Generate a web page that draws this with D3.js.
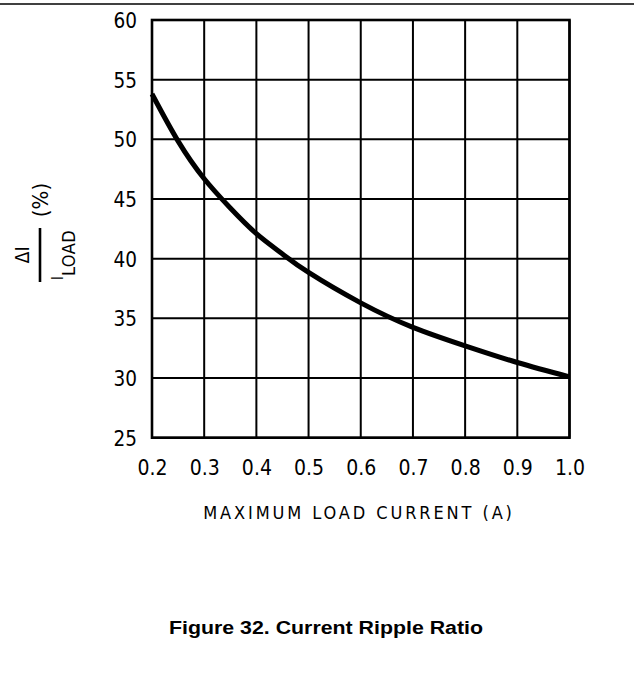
<!DOCTYPE html>
<html>
<head>
<meta charset="utf-8">
<script src="https://cdn.jsdelivr.net/npm/d3@7"></script>
<style>
  html, body { margin: 0; padding: 0; background: #fff; }
  svg { display: block; }
</style>
</head>
<body>
<script>
// Data
const loadCurrent = [0.2, 0.25, 0.3, 0.35, 0.4, 0.45, 0.5, 0.6, 0.7, 0.8, 0.9, 1.0];
const rippleRatio = [53.8, 49.85, 46.7, 44.25, 42.1, 40.4, 38.85, 36.3, 34.25, 32.7, 31.3, 30.1];
const xTicks = [0.2, 0.3, 0.4, 0.5, 0.6, 0.7, 0.8, 0.9, 1.0];
const xTickLabels = ["0.2", "0.3", "0.4", "0.5", "0.6", "0.7", "0.8", "0.9", "1.0"];
const yTicks = [25, 30, 35, 40, 45, 50, 55, 60];
const xTitle = "MAXIMUM LOAD CURRENT (A)";
const caption = "Figure 32. Current Ripple Ratio";

const W = 634, H = 675;
const mLeft = 152, mRight = 569.5, mTop = 20, mBottom = 437.7;

const svg = d3.select("body").append("svg").attr("width", W).attr("height", H);

// top rule
svg.append("line").attr("x1", 0).attr("x2", W).attr("y1", 4).attr("y2", 4)
  .attr("stroke", "#000").attr("stroke-width", 1.6);

const x = d3.scaleLinear().domain([0.2, 1.0]).range([mLeft, mRight]);
const y = d3.scaleLinear().domain([25, 60]).range([mBottom, mTop]);

const font = "'DejaVu Sans Condensed', 'DejaVu Sans', sans-serif";

// grid
const grid = svg.append("g");
grid.selectAll("line.v").data(xTicks).join("line").attr("class", "v")
  .attr("x1", d => x(d)).attr("x2", d => x(d)).attr("y1", mTop).attr("y2", mBottom)
  .attr("stroke", "#000").attr("stroke-width", 2);
grid.selectAll("line.h").data(yTicks).join("line").attr("class", "h")
  .attr("x1", mLeft).attr("x2", mRight).attr("y1", d => y(d)).attr("y2", d => y(d))
  .attr("stroke", "#000").attr("stroke-width", 2);

// frame
svg.append("rect").attr("x", mLeft).attr("y", mTop)
  .attr("width", mRight - mLeft).attr("height", mBottom - mTop)
  .attr("fill", "none").attr("stroke", "#000").attr("stroke-width", 2.6);

// axes via d3
const xAxis = d3.axisBottom(x).tickValues(xTicks).tickSize(0).tickPadding(0)
  .tickFormat((d, i) => xTickLabels[i]);
const gx = svg.append("g").attr("transform", `translate(0,${mBottom})`).call(xAxis);
gx.select(".domain").remove();
gx.selectAll("text").attr("font-family", font).attr("font-size", 21).attr("fill", "#000")
  .attr("dy", null).attr("y", 37.5);

const yAxis = d3.axisLeft(y).tickValues(yTicks).tickSize(0).tickPadding(0);
const gy = svg.append("g").attr("transform", `translate(${mLeft},0)`).call(yAxis);
gy.select(".domain").remove();
gy.selectAll("text").attr("font-family", font).attr("font-size", 20.5).attr("fill", "#000")
  .attr("x", -15).attr("dy", "0.36em");

// curve
const line = d3.line().x(d => x(d[0])).y(d => y(d[1])).curve(d3.curveNatural);
svg.append("path").datum(loadCurrent.map((v, i) => [v, rippleRatio[i]]))
  .attr("d", line).attr("fill", "none").attr("stroke", "#000").attr("stroke-width", 5);

// x title
svg.append("text").attr("x", 359).attr("y", 519).attr("text-anchor", "middle")
  .attr("font-family", font).attr("font-size", 18).attr("letter-spacing", 2.9)
  .attr("fill", "#000").text(xTitle);

// y label (rotated fraction)
const yl = svg.append("g").attr("transform", "translate(40,255) rotate(-90)");
yl.append("line").attr("x1", -27).attr("x2", 27).attr("y1", 0).attr("y2", 0)
  .attr("stroke", "#000").attr("stroke-width", 2.6);
yl.append("text").attr("x", 0).attr("y", -11).attr("text-anchor", "middle")
  .attr("font-family", font).attr("font-size", 19.5).attr("fill", "#000").text("ΔI");
const t2 = yl.append("text").attr("x", 0).attr("y", 23).attr("text-anchor", "middle")
  .attr("font-family", font).attr("fill", "#000");
t2.append("tspan").attr("font-size", 16).text("I");
t2.append("tspan").attr("font-size", 18).attr("dy", 12).attr("letter-spacing", 0.5).text("LOAD");
yl.append("text").attr("x", 55).attr("y", 7.5).attr("text-anchor", "middle")
  .attr("font-family", font).attr("font-size", 22).attr("fill", "#000").text("(%)");

// caption
svg.append("text").attr("x", 326).attr("y", 634).attr("text-anchor", "middle")
  .attr("font-family", "'Liberation Sans', Arial, sans-serif").attr("font-weight", "bold")
  .attr("font-size", 18).attr("textLength", 314).attr("lengthAdjust", "spacingAndGlyphs")
  .attr("fill", "#000").text(caption);
</script>
</body>
</html>
